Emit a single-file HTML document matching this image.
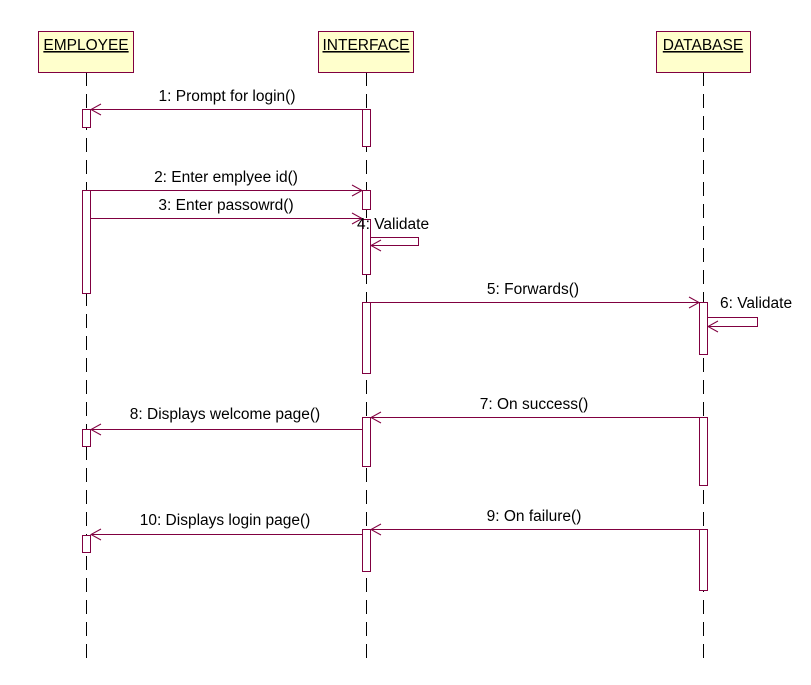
<!DOCTYPE html>
<html><head><style>
body{margin:0;background:#fff;}
svg{display:block;font-family:"Liberation Sans",Arial,sans-serif;}
text{font-size:15.5px;fill:#000;}
</style></head><body>
<svg width="811" height="685" viewBox="0 0 811 685">
<g stroke="#000" stroke-width="1" stroke-dasharray="14,8">
<line x1="86.5" y1="72" x2="86.5" y2="660"/>
<line x1="366.5" y1="72" x2="366.5" y2="660"/>
<line x1="703.5" y1="72" x2="703.5" y2="660"/>
</g>
<g fill="#ffffcc" stroke="#800040">
<rect x="38.5" y="31.5" width="95" height="41"/>
<rect x="318.5" y="31.5" width="95" height="41"/>
<rect x="656.5" y="31.5" width="94" height="41"/>
</g>
<g text-anchor="middle" style="font-size:16.5px">
<text x="86" y="50" text-decoration="underline">EMPLOYEE</text>
<text x="366" y="50" text-decoration="underline">INTERFACE</text>
<text x="703" y="50" text-decoration="underline">DATABASE</text>
</g>
<g fill="#fff" stroke="#800040">
<rect x="82.5" y="109.5" width="8" height="18"/>
<rect x="82.5" y="190.5" width="8" height="103"/>
<rect x="82.5" y="429.5" width="8" height="17"/>
<rect x="82.5" y="535.5" width="8" height="17"/>
<rect x="362.5" y="109.5" width="8" height="37"/>
<rect x="362.5" y="190.5" width="8" height="19"/>
<rect x="362.5" y="219.5" width="8" height="55"/>
<rect x="362.5" y="302.5" width="8" height="71"/>
<rect x="362.5" y="417.5" width="8" height="49"/>
<rect x="362.5" y="529.5" width="8" height="42"/>
<rect x="699.5" y="302.5" width="8" height="52"/>
<rect x="699.5" y="417.5" width="8" height="68"/>
<rect x="699.5" y="529.5" width="8" height="61"/>
</g>
<g stroke="#800040" fill="none">
<line x1="362" y1="109.5" x2="91" y2="109.5"/><polyline points="101,104 91,109.5 101,115"/>
<line x1="91" y1="190.5" x2="362" y2="190.5"/><polyline points="352,185 362,190.5 352,196"/>
<line x1="91" y1="218.5" x2="362" y2="218.5"/><polyline points="352,213 362,218.5 352,224"/>
<polyline points="371,237.5 418.5,237.5 418.5,245.5 371,245.5"/><polyline points="381,240 371,245.5 381,251"/>
<line x1="371" y1="302.5" x2="699" y2="302.5"/><polyline points="689,297 699,302.5 689,308"/>
<polyline points="708,317.5 757.5,317.5 757.5,326.5 708,326.5"/><polyline points="718,321 708,326.5 718,332"/>
<line x1="699" y1="417.5" x2="371" y2="417.5"/><polyline points="381,412 371,417.5 381,423"/>
<line x1="362" y1="429.5" x2="91" y2="429.5"/><polyline points="101,424 91,429.5 101,435"/>
<line x1="699" y1="529.5" x2="371" y2="529.5"/><polyline points="381,524 371,529.5 381,535"/>
<line x1="362" y1="534.5" x2="91" y2="534.5"/><polyline points="101,529 91,534.5 101,540"/>
</g>
<g text-anchor="middle">
<text x="227" y="101">1: Prompt for login()</text>
<text x="226" y="182">2: Enter emplyee id()</text>
<text x="226" y="210">3: Enter passowrd()</text>
<text x="533" y="294">5: Forwards()</text>
<text x="534" y="409">7: On success()</text>
<text x="534" y="521">9: On failure()</text>
<text x="225" y="419">8: Displays welcome page()</text>
<text x="225" y="525">10: Displays login page()</text>
</g>
<text x="357" y="229">4: Validate</text>
<text x="720" y="308">6: Validate</text>
</svg>
</body></html>
